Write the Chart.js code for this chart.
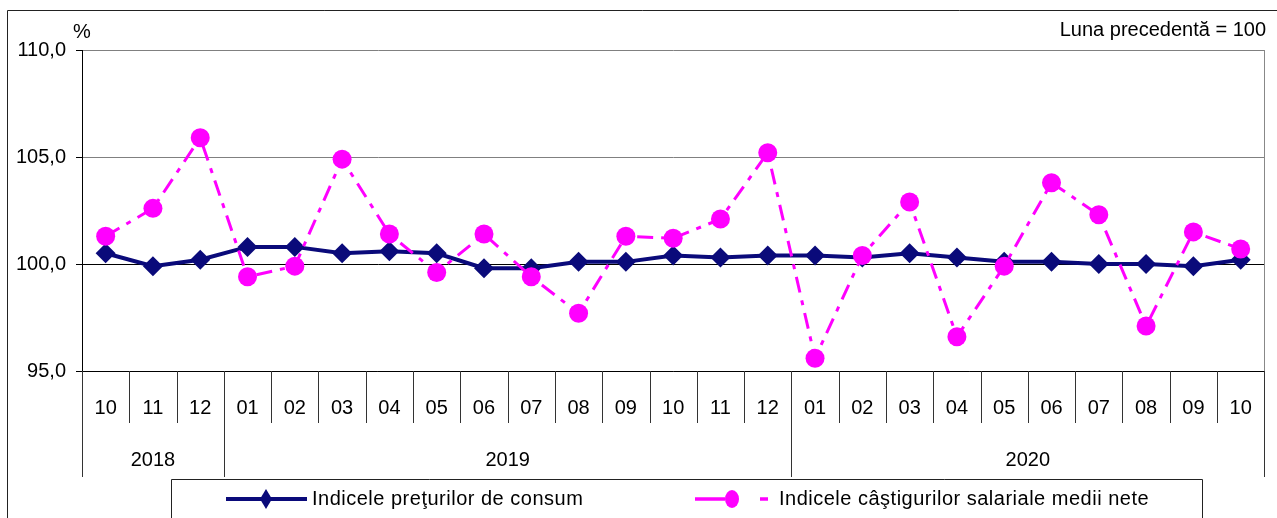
<!DOCTYPE html>
<html>
<head>
<meta charset="utf-8">
<script src="https://cdn.jsdelivr.net/npm/chart.js@4/dist/chart.umd.min.js"></script>
<style>
  html, body { margin: 0; padding: 0; background: #fff; }
  #wrap { width: 1277px; height: 518px; }
</style>
</head>
<body>
<div id="wrap"><canvas id="c" width="1277" height="518"></canvas></div>
<script>
var months = ['10', '11', '12', '01', '02', '03', '04', '05', '06', '07', '08', '09',
  '10', '11', '12', '01', '02', '03', '04', '05', '06', '07', '08', '09', '10'];
var years = ['2018', '2019', '2020'];
var yearSpans = [3, 12, 10];
var cpi = [100.5, 99.9, 100.2, 100.8, 100.8, 100.5, 100.6, 100.5, 99.8, 99.8, 100.1, 100.1,
  100.4, 100.3, 100.4, 100.4, 100.3, 100.5, 100.3, 100.1, 100.1, 100.0, 100.0, 99.9, 100.2];
var wages = [101.3, 102.6, 105.9, 99.4, 99.9, 104.9, 101.4, 99.6, 101.4, 99.4, 97.7, 101.3,
  101.2, 102.1, 105.2, 95.6, 100.4, 102.9, 96.6, 99.9, 103.8, 102.3, 97.1, 101.5, 100.7];
var seriesNames = ['Indicele preţurilor de consum', 'Indicele câştigurilor salariale medii nete'];
var yTicks = [95, 100, 105, 110];

var FONT = '"Liberation Sans", Arial, sans-serif';
var NAVY = '#0a0a7a';
var MAGENTA = '#ff00ff';

// frame, month/year rows, legend, notes
var decor = {
  id: 'decor',
  beforeDraw: function (chart) {
    var ctx = chart.ctx;
    ctx.save();
    ctx.strokeStyle = '#222';
    ctx.lineWidth = 1;
    ctx.beginPath();
    ctx.moveTo(7.5, 518); ctx.lineTo(7.5, 10.5); ctx.lineTo(1277, 10.5);
    ctx.stroke();
    ctx.restore();
  },
  afterDraw: function (chart) {
    var ctx = chart.ctx, a = chart.chartArea, x = chart.scales.x;
    var half = (x.getPixelForValue(1) - x.getPixelForValue(0)) / 2;
    ctx.save();
    // right border of plot
    ctx.strokeStyle = '#888';
    ctx.lineWidth = 1;
    ctx.beginPath();
    ctx.moveTo(Math.round(a.right) + 0.5, a.top);
    ctx.lineTo(Math.round(a.right) + 0.5, a.bottom);
    ctx.stroke();
    // month separators
    ctx.strokeStyle = '#333';
    ctx.beginPath();
    for (var i = 1; i < months.length; i++) {
      var px = Math.round(x.getPixelForValue(i) - half) + 0.5;
      ctx.moveTo(px, a.bottom); ctx.lineTo(px, 423);
    }
    ctx.stroke();
    // year separators + labels
    ctx.beginPath();
    ctx.moveTo(Math.round(a.left) + 0.5, a.bottom); ctx.lineTo(Math.round(a.left) + 0.5, 477);
    ctx.moveTo(Math.round(a.right) + 0.5, a.bottom); ctx.lineTo(Math.round(a.right) + 0.5, 477);
    var start = 0;
    ctx.fillStyle = '#000';
    ctx.font = '20px ' + FONT;
    ctx.textAlign = 'center';
    ctx.textBaseline = 'middle';
    for (var j = 0; j < years.length; j++) {
      var end = start + yearSpans[j];
      var x0 = x.getPixelForValue(start) - half, x1 = x.getPixelForValue(end - 1) + half;
      if (j > 0) { ctx.moveTo(Math.round(x0) + 0.5, a.bottom); ctx.lineTo(Math.round(x0) + 0.5, 477); }
      ctx.fillText(years[j], (x0 + x1) / 2, 460);
      start = end;
    }
    ctx.stroke();
    // notes
    ctx.font = '20px ' + FONT;
    ctx.textAlign = 'left';
    ctx.fillText('%', 73, 32);
    ctx.textAlign = 'right';
    ctx.fillText('Luna precedentă = 100', 1266, 30);
    // legend box
    ctx.strokeStyle = '#222';
    ctx.beginPath();
    ctx.moveTo(171.5, 518); ctx.lineTo(171.5, 479.5); ctx.lineTo(1202.5, 479.5); ctx.lineTo(1202.5, 518);
    ctx.stroke();
    var ly = 499;
    ctx.lineWidth = 4;
    ctx.strokeStyle = NAVY;
    ctx.beginPath(); ctx.moveTo(226, ly); ctx.lineTo(307, ly); ctx.stroke();
    ctx.fillStyle = NAVY;
    ctx.beginPath();
    ctx.moveTo(266, ly - 10); ctx.lineTo(272, ly); ctx.lineTo(266, ly + 10); ctx.lineTo(260, ly);
    ctx.closePath(); ctx.fill();
    ctx.lineWidth = 3.5;
    ctx.strokeStyle = MAGENTA;
    ctx.beginPath(); ctx.moveTo(695, ly); ctx.lineTo(725, ly); ctx.moveTo(760, ly); ctx.lineTo(768, ly); ctx.stroke();
    ctx.fillStyle = MAGENTA;
    ctx.beginPath(); ctx.ellipse(732, ly, 7, 9, 0, 0, Math.PI * 2); ctx.fill();
    ctx.fillStyle = '#000';
    ctx.textAlign = 'left';
    ctx.letterSpacing = '0.5px';
    ctx.fillText(seriesNames[0], 312, ly);
    ctx.fillText(seriesNames[1], 779, ly);
    ctx.restore();
  }
};

new Chart(document.getElementById('c'), {
  type: 'line',
  data: {
    labels: months,
    datasets: [
      {
        label: seriesNames[0], data: cpi, order: 1,
        borderColor: NAVY, backgroundColor: NAVY, borderWidth: 4,
        pointStyle: 'rectRot', pointRadius: 10, pointBorderWidth: 0,
        tension: 0
      },
      {
        label: seriesNames[1], data: wages, order: 0,
        borderColor: MAGENTA, backgroundColor: MAGENTA, borderWidth: 3,
        borderDash: [16, 8, 5, 8],
        pointStyle: 'circle', pointRadius: 9.5, pointBorderWidth: 0,
        tension: 0
      }
    ]
  },
  options: {
    responsive: false,
    animation: false,
    layout: { padding: { left: 0, right: 7, top: 50, bottom: 0 } },
    plugins: { legend: { display: false }, tooltip: { enabled: false } },
    scales: {
      x: {
        offset: true,
        grid: { display: false, drawTicks: false },
        border: { display: true, color: '#000', width: 1 },
        ticks: { color: '#000', font: { family: FONT, size: 20 }, padding: 25, maxRotation: 0, autoSkip: false },
        afterFit: function (s) { s.height = 147; }
      },
      y: {
        min: 95, max: 110,
        afterBuildTicks: function (s) { s.ticks = yTicks.map(function (v) { return { value: v }; }); },
        grid: {
          color: function (c) { return c.tick && c.tick.value === 100 ? '#000' : '#808080'; },
          lineWidth: 1, tickLength: 6, tickColor: '#000'
        },
        border: { display: true, color: '#000', width: 1 },
        ticks: {
          color: '#000', font: { family: FONT, size: 20 }, padding: 10,
          callback: function (v) { return Number(v).toFixed(1).replace('.', ','); }
        },
        afterFit: function (s) { s.width = 82; }
      }
    }
  },
  plugins: [decor]
});
</script>
</body>
</html>
